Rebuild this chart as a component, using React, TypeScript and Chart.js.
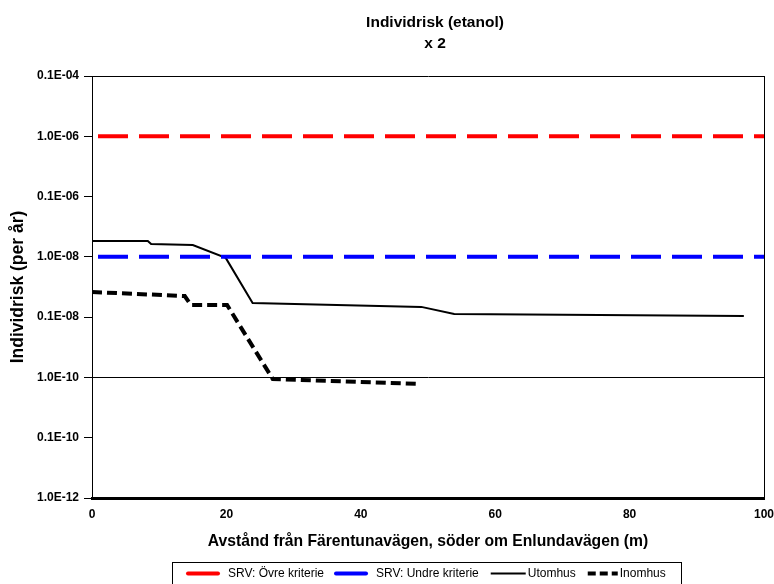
import { useEffect, useRef } from "react";
import { Chart, registerables } from "chart.js";

Chart.register(...registerables);

const FONT = "'Liberation Sans', Arial, sans-serif";

const TITLE_LINES = ["Individrisk (etanol)", "x 2"];
const X_TITLE = "Avstånd från Färentunavägen, söder om Enlundavägen (m)";
const Y_TITLE = "Individrisk (per år)";

// Decade ticks on the risk axis and the labels printed next to them
const Y_TICK_VALUES = [1e-12, 1e-11, 1e-10, 1e-9, 1e-8, 1e-7, 1e-6, 1e-5];
const Y_TICK_LABELS = ["1.0E-12", "0.1E-10", "1.0E-10", "0.1E-08", "1.0E-08", "0.1E-06", "1.0E-06", "0.1E-04"];

const X_MIN = 0;
const X_MAX = 100;
const X_STEP = 20;

// SRV criteria, constant over the whole distance range
const CRITERIA_X = [0, 100];
const UPPER_CRITERION = 1e-6;
const LOWER_CRITERION = 1e-8;

// Outdoor individual risk
const OUTDOOR_X = [0, 8.3, 8.8, 15.0, 19.9, 23.9, 49.0, 53.9, 97.0];
const OUTDOOR_RISK = [1.83e-8, 1.83e-8, 1.63e-8, 1.57e-8, 9.6e-9, 1.72e-9, 1.48e-9, 1.13e-9, 1.04e-9];

// Indoor individual risk
const INDOOR_X = [0, 13.8, 14.7, 20.1, 26.9, 48.7];
const INDOOR_RISK = [2.61e-9, 2.24e-9, 1.59e-9, 1.59e-9, 9.4e-11, 7.8e-11];

const LEGEND_LABELS = ["SRV: Övre kriterie", "SRV: Undre kriterie", "Utomhus", "Inomhus"];

const near = (a: number, b: number) => Math.abs(Math.log10(a) - Math.log10(b)) < 1e-6;

const titlePlugin = {
  id: "centredTitle",
  afterDraw(chart: any) {
    const { ctx, chartArea } = chart;
    const cx = (chartArea.left + chartArea.right) / 2 + 7;
    ctx.save();
    ctx.fillStyle = "#000";
    ctx.font = `bold 15.5px ${FONT}`;
    ctx.textAlign = "center";
    ctx.textBaseline = "middle";
    TITLE_LINES.forEach((line, i) => ctx.fillText(line, cx, 23 + i * 21));
    ctx.restore();
  },
};

const legendPlugin = {
  id: "boxedLegend",
  afterDraw(chart: any) {
    const { ctx } = chart;
    const boxLeft = 172;
    const boxTop = 562;
    const boxRight = 681;
    const rowY = 573.5;
    ctx.save();
    ctx.strokeStyle = "#000";
    ctx.lineWidth = 1;
    ctx.strokeRect(boxLeft + 0.5, boxTop + 0.5, boxRight - boxLeft, 40);
    ctx.font = `12px ${FONT}`;
    ctx.textBaseline = "middle";
    ctx.fillStyle = "#000";
    let x = boxLeft + 16;
    chart.data.datasets.forEach((ds: any, i: number) => {
      const sample = i === 2 ? 35 : 30;
      ctx.beginPath();
      ctx.strokeStyle = ds.borderColor;
      ctx.lineWidth = ds.borderWidth;
      ctx.setLineDash(i === 3 ? [8, 4] : []);
      ctx.lineCap = i < 2 ? "round" : "butt";
      ctx.moveTo(x, rowY);
      ctx.lineTo(x + sample, rowY);
      ctx.stroke();
      ctx.setLineDash([]);
      const tx = x + sample + (i >= 2 ? 2 : 10);
      ctx.fillText(ds.label, tx, rowY);
      x = tx + ctx.measureText(ds.label).width + 12;
    });
    ctx.restore();
  },
};

export default function App() {
  const canvasRef = useRef<HTMLCanvasElement | null>(null);

  useEffect(() => {
    document.body.style.margin = "0";
    const canvas = canvasRef.current;
    if (!canvas) return;

    const toPoints = (xs: number[], ys: number[]) => xs.map((x, i) => ({ x, y: ys[i] }));

    const chart = new Chart(canvas, {
      type: "line",
      data: {
        datasets: [
          {
            label: LEGEND_LABELS[0],
            data: toPoints(CRITERIA_X, CRITERIA_X.map(() => UPPER_CRITERION)),
            borderColor: "#ff0000",
            borderWidth: 4,
            borderDash: [30, 11],
            borderDashOffset: 35,
            pointRadius: 0,
          },
          {
            label: LEGEND_LABELS[1],
            data: toPoints(CRITERIA_X, CRITERIA_X.map(() => LOWER_CRITERION)),
            borderColor: "#0000ff",
            borderWidth: 4,
            borderDash: [30, 11],
            borderDashOffset: 35,
            pointRadius: 0,
          },
          {
            label: LEGEND_LABELS[2],
            data: toPoints(OUTDOOR_X, OUTDOOR_RISK),
            borderColor: "#000000",
            borderWidth: 2,
            pointRadius: 0,
          },
          {
            label: LEGEND_LABELS[3],
            data: toPoints(INDOOR_X, INDOOR_RISK),
            borderColor: "#000000",
            borderWidth: 4,
            borderDash: [10, 5],
            pointRadius: 0,
          },
        ],
      },
      options: {
        responsive: false,
        animation: false,
        events: [],
        layout: { padding: { top: 76, right: 0, bottom: 0, left: 0 } },
        plugins: {
          legend: { display: false },
          title: { display: false },
          tooltip: { enabled: false },
        },
        scales: {
          x: {
            type: "linear",
            min: X_MIN,
            max: X_MAX,
            afterFit: (scale: any) => {
              scale.height = 86;
              scale.paddingRight = 10;
            },
            ticks: {
              stepSize: X_STEP,
              color: "#000",
              padding: 9,
              maxRotation: 0,
              font: { family: FONT, size: 12, weight: "bold" },
            },
            grid: {
              drawTicks: false,
              color: (c: any) => (c.tick && c.tick.value === X_MAX ? "#000" : "rgba(0,0,0,0)"),
              lineWidth: 1,
            },
            border: { display: true, color: "#000", width: 3 },
            title: {
              display: true,
              text: X_TITLE,
              color: "#000",
              font: { family: FONT, size: 15.7, weight: "bold" },
              padding: { top: 0, bottom: 33 },
            },
          },
          y: {
            type: "logarithmic",
            min: Y_TICK_VALUES[0],
            max: Y_TICK_VALUES[Y_TICK_VALUES.length - 1],
            afterFit: (scale: any) => {
              scale.width = 92;
            },
            afterBuildTicks: (scale: any) => {
              scale.ticks = Y_TICK_VALUES.map((value) => ({ value }));
            },
            ticks: {
              color: "#000",
              padding: 5,
              font: { family: FONT, size: 12, weight: "bold" },
              callback: (value: any) => {
                const idx = Y_TICK_VALUES.findIndex((v) => near(v, Number(value)));
                return idx >= 0 ? Y_TICK_LABELS[idx] : "";
              },
            },
            grid: {
              drawTicks: true,
              tickLength: 8,
              tickColor: "#000",
              color: (c: any) =>
                c.tick && (near(c.tick.value, 1e-10) || near(c.tick.value, Y_TICK_VALUES[Y_TICK_VALUES.length - 1]))
                  ? "#000"
                  : "rgba(0,0,0,0)",
              lineWidth: 1,
            },
            border: { display: true, color: "#000", width: 1 },
            title: {
              display: true,
              text: Y_TITLE,
              color: "#000",
              font: { family: FONT, size: 17.5, weight: "bold" },
              padding: { top: 8, bottom: 0 },
            },
          },
        },
      },
      plugins: [titlePlugin, legendPlugin],
    } as any);

    return () => chart.destroy();
  }, []);

  return (
    <div style={{ width: 774, height: 584, background: "#fff" }}>
      <canvas ref={canvasRef} width={774} height={584} style={{ display: "block" }} />
    </div>
  );
}
